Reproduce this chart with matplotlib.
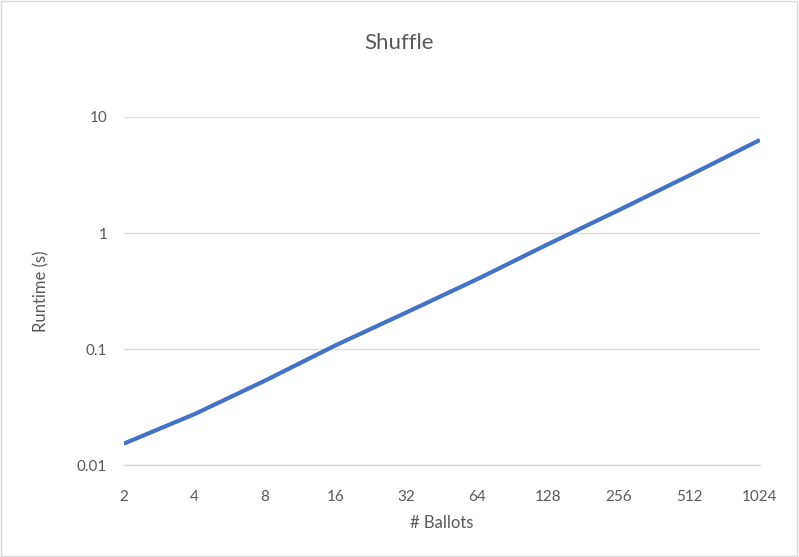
import matplotlib.pyplot as plt
from matplotlib.patches import Rectangle

# Shuffle runtime per number of ballots
ballots = ["2", "4", "8", "16", "32", "64", "128", "256", "512", "1024"]
runtime = [0.0153, 0.0275, 0.0535, 0.108, 0.207, 0.40, 0.80, 1.57, 3.13, 6.33]

ytick_vals = [0.01, 0.1, 1, 10]
ytick_labels = ["0.01", "0.1", "1", "10"]

plt.rcParams['font.family'] = ['Lato', 'DejaVu Sans']
grey_text = '#595959'
grid_col = '#D9D9D9'

fig = plt.figure(figsize=(7.99, 5.57), dpi=100)
ax = fig.add_axes([0.155, 0.165, 0.796, 0.625])

x = list(range(len(ballots)))
ax.plot(x, runtime, color='#4472C4', linewidth=3.0, solid_capstyle='butt',
        solid_joinstyle='round', zorder=3)

ax.set_yscale('log')
ax.set_ylim(0.01, 10)
ax.set_xlim(0, len(ballots) - 1)
ax.set_yticks(ytick_vals)
ax.set_yticklabels(ytick_labels)
ax.minorticks_off()
ax.set_xticks(x)
ax.set_xticklabels(ballots)

ax.yaxis.grid(True, color=grid_col, linewidth=1.0)
ax.set_axisbelow(True)
for s in ['top', 'right', 'left']:
    ax.spines[s].set_visible(False)
ax.spines['bottom'].set_color(grid_col)
ax.spines['bottom'].set_linewidth(1.0)
ax.tick_params(axis='both', length=0, colors=grey_text, labelsize=11)
ax.tick_params(axis='y', pad=12)
ax.tick_params(axis='x', pad=18)

ax.set_xlabel("# Ballots", color=grey_text, fontsize=12, labelpad=8)
ax.set_ylabel("Runtime (s)", color=grey_text, fontsize=12, labelpad=20)
fig.text(0.5, 0.922, "Shuffle", ha='center', va='center', color=grey_text, fontsize=16)

# thin border round the chart area
fig.patches.append(Rectangle((0.001, 0.001), 0.997, 0.997, transform=fig.transFigure,
                             fill=False, edgecolor=grid_col, linewidth=1.0))

fig.savefig("out.png", dpi=100)
